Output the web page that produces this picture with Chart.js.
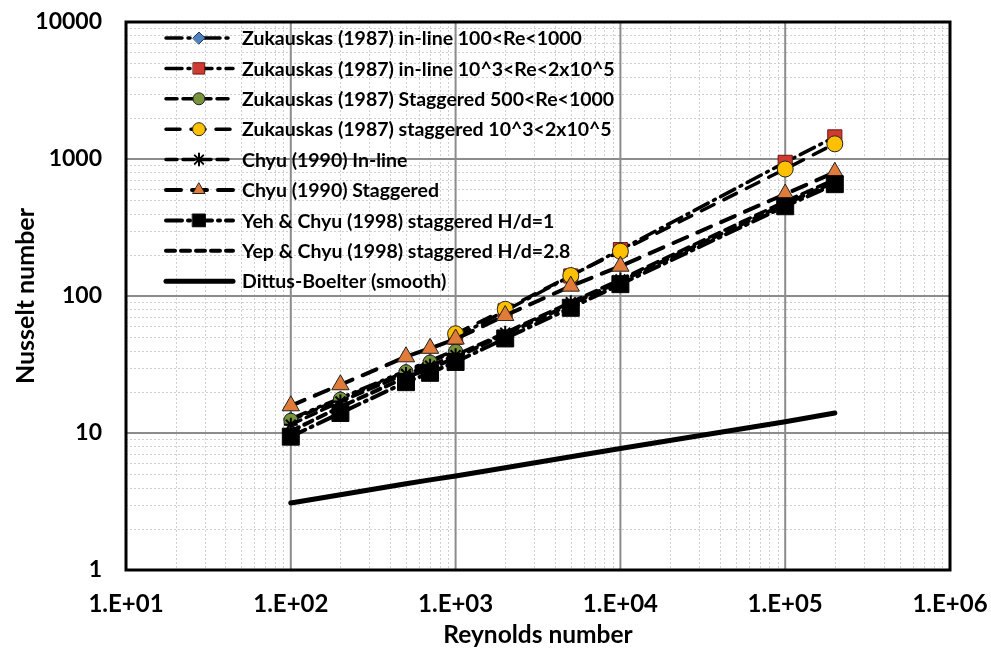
<!DOCTYPE html>
<html>
<head>
<meta charset="utf-8">
<script src="https://cdn.jsdelivr.net/npm/chart.js@4/dist/chart.umd.min.js"></script>
<style>
html, body { margin: 0; padding: 0; background: #fff; }
</style>
</head>
<body>
<canvas id="chart" width="991" height="653"></canvas>
<script>
// Reynolds numbers used by each group of series
const reAll = [100, 200, 500, 700, 1000, 2000, 5000, 10000, 100000, 200000];
const reLow = [100, 200, 500, 700, 1000];
const reHigh = [1000, 2000, 5000, 10000, 100000, 200000];

// Nusselt numbers
const zukInlineLow = [12.7, 18.0, 28.5, 33.7, 40.3];
const zukInlineHigh = [50, 78, 140, 218, 945, 1450];
const zukStagLow = [12.4, 17.7, 28, 33, 39.5];
const zukStagHigh = [53, 80, 141, 212, 845, 1290];
const chyuInline = [11.5, 17, 27, 31, 37, 54, 90, 132, 490, 710];
const chyuStag = [15.8, 22.5, 36, 41.5, 48.5, 72, 118, 165, 555, 800];
const yehHd1 = [9.4, 14, 23.5, 27.5, 33, 49, 82, 122, 452, 655];
const yepHd28 = [10.3, 15.5, 25.5, 29.5, 35.5, 52.5, 87, 128, 470, 680];
const dittus = [3.08, 3.54, 4.26, 4.55, 4.85, 5.58, 6.7, 7.7, 12.1, 14.0];

const xTicks = [10, 100, 1000, 10000, 100000, 1000000];
const xTickLabels = ['1.E+01', '1.E+02', '1.E+03', '1.E+04', '1.E+05', '1.E+06'];
const yTicks = [1, 10, 100, 1000, 10000];
const yTickLabels = ['1', '10', '100', '1000', '10000'];

const FONT = 'Lato';

const pts = (xs, ys) => xs.map((x, i) => ({ x: x, y: ys[i] }));

const series = [
    { label: 'Zukauskas (1987) in-line 100<Re<1000', data: pts(reLow, zukInlineLow),
      dash: [16, 6, 2, 6, 2, 6], width: 3.5, style: 'rectRot', r: 7, lr: 6, fill: '#4f81bd', edge: '#1f3a60' },
    { label: 'Zukauskas (1987) in-line 10^3<Re<2x10^5', data: pts(reHigh, zukInlineHigh),
      dash: [16, 6, 2, 6], width: 3.5, style: 'rect', r: 10, lr: 8, fill: '#d13a30', edge: '#6b1510' },
    { label: 'Zukauskas (1987) Staggered 500<Re<1000', data: pts(reLow, zukStagLow),
      dash: [11, 6], width: 3.5, style: 'circle', r: 7, lr: 6, fill: '#77933c', edge: '#222' },
    { label: 'Zukauskas (1987) staggered 10^3<2x10^5', data: pts(reHigh, zukStagHigh),
      dash: [14, 11], width: 3.5, style: 'circle', r: 8, lr: 6.5, fill: '#ffc000', edge: '#222' },
    { label: 'Chyu (1990) In-line', data: pts(reAll, chyuInline),
      dash: [11, 6], width: 3.5, style: 'star', r: 7, lr: 6, fill: '#000', edge: '#000' },
    { label: 'Chyu (1990) Staggered', data: pts(reAll, chyuStag),
      dash: [15, 11], width: 4, style: 'triangle', r: 10, lr: 7, fill: '#e07b39', edge: '#222' },
    { label: 'Yeh & Chyu (1998) staggered H/d=1', data: pts(reAll, yehHd1),
      dash: [16, 6, 2, 6], width: 4, style: 'rect', r: 12, lr: 9, fill: '#000', edge: '#000' },
    { label: 'Yep & Chyu (1998) staggered H/d=2.8', data: pts(reAll, yepHd28),
      dash: [9, 6], width: 4, style: false, r: 0, lr: 0, fill: '#000', edge: '#000' },
    { label: 'Dittus-Boelter (smooth)', data: pts(reAll, dittus),
      dash: [], width: 5, style: false, r: 0, lr: 0, fill: '#000', edge: '#000' }
];

const datasets = series.map((s, i) => ({
    label: s.label,
    data: s.data,
    showLine: true,
    borderColor: '#000',
    borderWidth: s.width,
    borderDash: s.dash,
    borderCapStyle: 'round',
    pointStyle: s.style,
    pointRadius: s.r,
    pointHoverRadius: s.r,
    pointBackgroundColor: s.fill,
    pointBorderColor: s.edge,
    pointBorderWidth: s.style === 'star' ? 2 : 1,
    legendRadius: s.lr,
    order: series.length - i
}));

const isDecade = v => Math.abs(Math.log10(v) - Math.round(Math.log10(v))) < 1e-9;

function logTicks(scale) {
    const out = [];
    for (let p = Math.round(Math.log10(scale.min)); p < Math.round(Math.log10(scale.max)); p++) {
        for (let k = 1; k < 10; k++) out.push({ value: k * Math.pow(10, p) });
    }
    out.push({ value: scale.max });
    scale.ticks = out;
}

const frame = {
    id: 'frame',
    beforeDatasetsDraw(chart) {
        const { ctx, chartArea: a, scales } = chart;
        ctx.save();
        ctx.strokeStyle = '#cfcfcf';
        ctx.lineWidth = 1;
        ctx.setLineDash([2, 2]);
        scales.x.ticks.forEach(t => {
            if (isDecade(t.value)) return;
            const px = Math.round(scales.x.getPixelForValue(t.value)) + 0.5;
            ctx.beginPath(); ctx.moveTo(px, a.top); ctx.lineTo(px, a.bottom); ctx.stroke();
        });
        scales.y.ticks.forEach(t => {
            if (isDecade(t.value)) return;
            const py = Math.round(scales.y.getPixelForValue(t.value)) + 0.5;
            ctx.beginPath(); ctx.moveTo(a.left, py); ctx.lineTo(a.right, py); ctx.stroke();
        });
        ctx.setLineDash([]);
        ctx.strokeStyle = '#8c8c8c';
        ctx.lineWidth = 2;
        scales.x.ticks.forEach(t => {
            if (!isDecade(t.value)) return;
            const px = scales.x.getPixelForValue(t.value);
            ctx.beginPath(); ctx.moveTo(px, a.top); ctx.lineTo(px, a.bottom); ctx.stroke();
        });
        scales.y.ticks.forEach(t => {
            if (!isDecade(t.value)) return;
            const py = scales.y.getPixelForValue(t.value);
            ctx.beginPath(); ctx.moveTo(a.left, py); ctx.lineTo(a.right, py); ctx.stroke();
        });
        ctx.strokeStyle = '#000';
        ctx.lineWidth = 3;
        ctx.strokeRect(a.left, a.top, a.right - a.left, a.bottom - a.top);
        ctx.restore();
    },
    afterDatasetsDraw(chart) {
        const ctx = chart.ctx;
        chart.data.datasets.forEach((ds, i) => {
            const y = 38 + i * 30.4;
            ctx.save();
            ctx.strokeStyle = '#000';
            ctx.lineWidth = ds.borderWidth;
            ctx.lineCap = 'round';
            ctx.setLineDash(ds.borderDash);
            ctx.beginPath(); ctx.moveTo(166, y); ctx.lineTo(233, y); ctx.stroke();
            ctx.setLineDash([]);
            if (ds.pointStyle) {
                ctx.fillStyle = ds.pointBackgroundColor;
                ctx.strokeStyle = ds.pointBorderColor;
                ctx.lineWidth = ds.pointBorderWidth;
                Chart.helpers.drawPoint(ctx, { pointStyle: ds.pointStyle, radius: ds.legendRadius,
                    borderWidth: ds.pointBorderWidth, rotation: 0 }, 199, y);
            }
            ctx.fillStyle = '#000';
            ctx.font = 'bold 19.5px ' + FONT;
            ctx.textBaseline = 'middle';
            ctx.fillText(ds.label, 242, y + 1);
            ctx.restore();
        });
    }
};

new Chart(document.getElementById('chart'), {
    type: 'scatter',
    data: { datasets: datasets },
    options: {
        responsive: false,
        animation: false,
        layout: { padding: { top: 22, right: 41, left: 0, bottom: 0 } },
        plugins: { legend: { display: false }, tooltip: { enabled: false } },
        scales: {
            x: {
                type: 'logarithmic',
                min: 10, max: 1000000,
                afterBuildTicks: logTicks,
                afterFit: s => { s.height = 83; s.paddingLeft = 0; s.paddingRight = 0; },
                grid: { display: false, drawTicks: false },
                border: { display: false },
                ticks: {
                    autoSkip: false, maxRotation: 0, padding: 20, color: '#000',
                    font: { family: FONT, size: 24, weight: 'bold' },
                    callback: v => { const i = xTicks.findIndex(t => Math.abs(t - v) < 1e-6 * t); return i < 0 ? '' : xTickLabels[i]; }
                },
                title: { display: true, text: 'Reynolds number', color: '#000',
                    font: { family: FONT, size: 24.5, weight: 'bold' }, padding: { top: 0, bottom: 3 } }
            },
            y: {
                type: 'logarithmic',
                min: 1, max: 10000,
                afterBuildTicks: logTicks,
                afterFit: s => { s.width = 126; s.paddingTop = 0; s.paddingBottom = 0; },
                grid: { display: false, drawTicks: false },
                border: { display: false },
                ticks: {
                    autoSkip: false, padding: 24, color: '#000',
                    font: { family: FONT, size: 23, weight: 'bold' },
                    callback: v => { const i = yTicks.findIndex(t => Math.abs(t - v) < 1e-6 * t); return i < 0 ? '' : yTickLabels[i]; }
                },
                title: { display: true, text: 'Nusselt number', color: '#000',
                    font: { family: FONT, size: 25, weight: 'bold' }, padding: { top: 11, bottom: 0 } }
            }
        }
    },
    plugins: [frame]
});
</script>
</body>
</html>
